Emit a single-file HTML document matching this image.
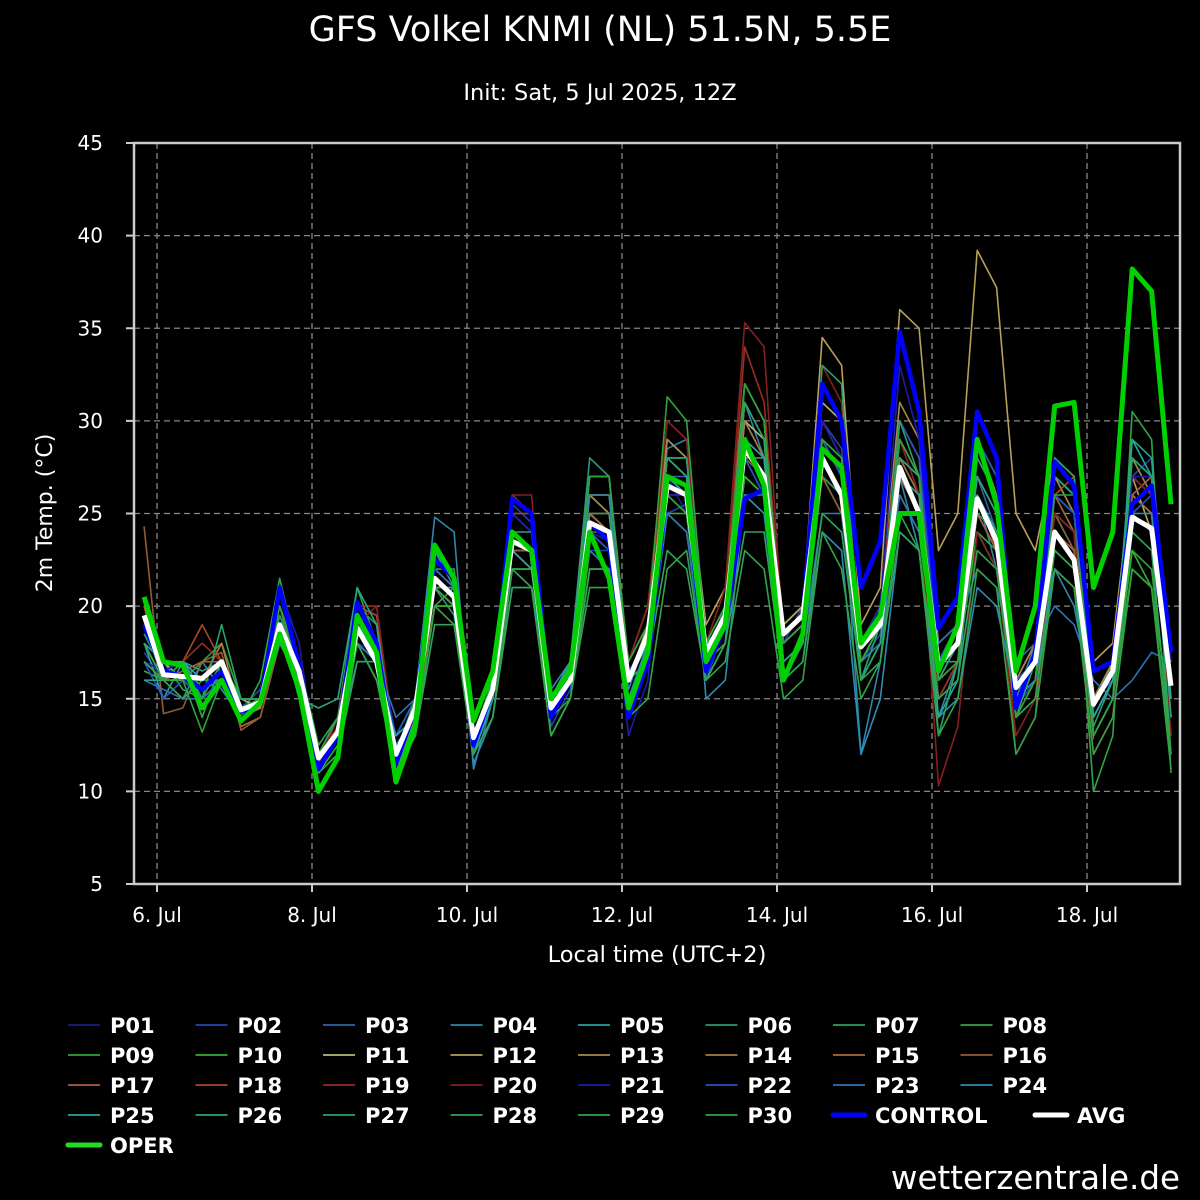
<!DOCTYPE html>
<html><head><meta charset="utf-8"><style>
html,body{margin:0;padding:0;background:#000;}
svg{display:block;font-family:"DejaVu Sans","Liberation Sans",sans-serif;}
</style></head><body>
<svg id="chart" width="1200" height="1200" viewBox="0 0 1200 1200" xmlns="http://www.w3.org/2000/svg">
<rect width="1200" height="1200" fill="#000"/>
<text x="600" y="41" text-anchor="middle" fill="#fff" font-size="35">GFS Volkel KNMI (NL) 51.5N, 5.5E</text>
<text x="600" y="100" text-anchor="middle" fill="#fff" font-size="22.5">Init: Sat, 5 Jul 2025, 12Z</text>
<g id="grid"></g>
<g id="series"></g>
<rect x="134" y="143" width="1046" height="741" fill="none" stroke="#ccc" stroke-width="2.5"/>
<g id="axes"></g>
<text x="657" y="962" text-anchor="middle" fill="#fff" font-size="22.5">Local time (UTC+2)</text>
<text transform="translate(52,513) rotate(-90)" text-anchor="middle" fill="#fff" font-size="22">2m Temp. (°C)</text>
<g id="legend"></g>
<text x="1180" y="1189" text-anchor="end" fill="#fff" font-size="32.5">wetterzentrale.de</text>
</svg>
<script>
const yTicks=[5,10,15,20,25,30,35,40,45];
const xTickLabels=["6. Jul","8. Jul","10. Jul","12. Jul","14. Jul","16. Jul","18. Jul"];
const xTickDays=[0,2,4,6,8,10,12];
const startHourOffset=-4;
const stepHours=6;
const avg=[19.5,16.3,16.2,16.1,17.0,14.4,14.8,19.0,16.5,11.8,13.2,18.8,17.0,12.0,14.5,21.5,20.5,12.9,15.5,23.5,23.0,14.5,16.0,24.5,24.0,16.0,18.5,26.5,26.0,17.5,19.5,28.5,27.0,18.5,19.5,28.0,26.0,17.8,19.0,27.5,25.0,16.8,18.0,25.8,23.5,15.6,17.0,24.0,22.5,14.7,16.5,24.8,24.2,15.7];
const oper=[20.5,17.0,16.8,14.5,16.0,13.8,14.8,18.5,15.5,10.0,11.8,19.5,17.5,10.5,13.5,23.3,21.5,13.8,16.5,24.0,23.0,15.0,16.5,24.0,21.5,14.5,17.5,27.0,26.5,17.0,19.0,29.0,26.5,16.0,18.5,28.5,27.5,18.0,19.5,25.0,25.0,16.5,19.0,29.0,25.5,16.5,20.0,30.8,31.0,21.0,24.0,38.2,37.0,25.5];
const control=[19,16.5,16.2,15.5,16.5,14.3,14.8,21,16.8,11.2,13,20.2,18,11.5,14.5,22.5,21.5,12.5,15.5,25.8,25.0,14,16,24.5,23.5,14,17,26.5,26,16.5,19,25.8,26.3,18.5,19.5,32,30,21,23.5,34.8,30.5,18.8,20.5,30.5,28,14.5,17.5,27.8,26.5,16.5,17.0,25.5,26.5,17.5];
const P01=[18,17,16,15.5,16.5,14,15,19.5,16,11.5,13,18,17.5,12.5,14,22,21,12.5,15,25,24,14,16.5,24,23.5,16.5,18,27,25,17,20,27,26,19,20,27,25,17,19,26,24,16,17,25,23,15,17,22,21,14,16,23,22,17.5];
const P02=[17.5,16,16.5,15,16,14.5,15.5,20,17,11,13.5,19.5,17,12,15,22.5,21.5,12,15,25.5,24.5,13.5,15.5,23,23,14,17,25,25.5,16,19,26,25,18,20,30,28.5,17,18.5,29,26,16.5,18,29,26,14.5,16,27,25,15,16,27,28,17];
const P03=[19,17,16,16,16,14.5,14.5,19,17,12,13,18.5,17.5,13,14,21,20,12,16,23,22,15,16,25,24,16,19,27,27,17,20,28,26,18,19,27,26,18,20,28,26,17,19,27,24,16,18,24,23,15,17,26,25,16];
const P04=[17,16,15,17,15.5,14,15,18.5,16,12,14,19,17,13,15,24.8,24,11.2,15,24,23,15.5,17,25,24,15.5,18.5,28.5,29,18,20,31,28,18.5,19.5,29,27,12,17,27,23,14,17,26,22,15,18,22,20,14.5,17,26,25,16];
const P05=[18,15,17,16.5,17,14.5,15,20,16.5,12,13,18,16,13,15,22,21,12,15,24,23,14,17,26,25,17,19,27,26,18,19,29,27,19,20,28,26,18,19,27,25,17,18,26,24,16,17,25,23,14,16,28,27,16];
const P06=[18.5,16.5,16,16,17,14,14.5,19,16,12.5,14,19,17.5,12,14.5,21,19.5,13,16,24,23,15,17,28,27,17,19,29,28,18,20,30,28,19,20,29,27,18,20,28,26,17,19,26,24,16,17,25,24,13.5,16,27,26,14];
const P07=[19,17,15.5,15,17,14.5,15,19.5,17,12.5,14,20,19,11,14,20,20,14,16,23,22,15,16,24,23,16,18,25,24,17,19,27,26,18,19,27,26,18,19,28,27,17,19,27,25,16,18,26,25,13,15,22,21,14];
const P08=[17,16.5,17,14,17,14,16,21.5,17,12,14,21,18,11,13,20,21,13,16,25,24,15,16,25,24,16,17,26,25,17,18,28,28,17,18,29,27,16,18,29,27,17,17,24,23,14,16,25,24,10,13,30.5,29,11];
const P09=[20,17,16,17,18,15,15,20,16,12,13,19,17,12,14,21,20,13,15,22,22,14,15,23,22,15,17,26,25,16,18,27,26,17,18,27,25,16,18,26,24,15,17,24,22,14,15,22,21,13,15,23,22,13];
const P10=[16.5,16,16,15,16,15,15,18,16,11,12.5,18,17,11,14,20,20,12,14,22,22,13,15,22,22,15,17,25,25,17,19,27,26,18,19,28,26,17,19,27,25,16,17,24,22,15,17,23,22,14,16,23,21,12];
const P11=[19,16,16,16,17,15,14.5,19,17,12,13,19,17,12,15,21,20,13,16,24,23,15,17,25,24,16,18,28,27,18,20,30,29,19,20,31,30,18,20,30,28,18,19,29,27,16,18,26,25,15,17,27,26,16];
const P12=[19,17,16,16,17,14,15,18,17,12,14,19,18,12,15,22,21,13,16,23,23,15,17,26,26,17,20,29,28,19,21,32,30,19,20,34.5,33,19,21,36,35,23,25,39.2,37.2,25,23,28,27,17,18,27,24,17];
const P13=[18,16,17,16,17,14,14.5,18,16,12,13,18,17,12,14,21,20,13,15,24,23,14,16,26,25,16,19,29,28,18,20,31,29,18,19,30,28,18,20,31,29,17,19,29,26,15,17,27,25,15,17,28,26,15];
const P14=[17,16,15,16,18,14,15,18,16,12,13,18,17,12,14,21,20,13,15,23,23,14,16,25,24,16,18,28,27,17,19,30,28,18,19,29,27,17,19,29,27,17,19,28,26,16,18,27,26,15,16,26,25,14];
const P15=[20,16,16,16,17,13.5,14,18,17,12,14,19,17,12,14,21,20,13,16,23,22,14,16,25,24,16,18,27,26,17,19,29,28,18,19,28,26,17,19,28,26,16,18,27,25,15,17,26,24,14,16,26,25,14];
const P16=[24.3,14.2,14.5,17,17.5,13.3,14,18,16,11,13,18,17,12,14,20,19,13,16,23,23,15,16,24,24,16,18,26,26,17,19,28,27,18,19,27,25,17,18,27,25,16,18,26,24,15,17,25,23,14,16,25,24,15];
const P17=[19,16,16.5,17,17,14,15,19,17,12,13,19,18,12,15,21,20,13,16,23,22,15,16,25,25,16,18,27,26,17,19,29,27,18,19,28,26,17,19,27,25,16,17,25,23,15,16,24,23,12,14,26,27,13];
const P18=[18,16,17,19,17,14,15,20,17,11,13,20,19.5,12,14,21,21,13,16,25,25,14,16,25,25,16,18,28,27,17,19,31,29,18,19,30,28,17,18,29,27,15,17,26,23,12,14,26,27,12.8];
const P19=[18,16,17,18,17,14,15,20,17,11.5,14,20,20,12,15,22,21,13,16,26,25,14,17,26,26,17,19,30,29,18,20,34,31,18,19,32,30,18,20,30,28,15,17,25,24,14,16,27,26,13,15,27,26,14];
const P20=[18,16,16,16,17,14,15,20,17,12,13.5,19,20,12,15,22,21,13,16,26,26,14,17,27,27,17,20,30,29,18,21,35.3,34,18,19,33,31,17,19,29,26,10.3,13.5,24,22,13,15,25,24,12,14,27,26,13];
const P21=[17,16.5,17,15,16,14,15,21,18,11,13,20,18,13,14,22,21,12,15,25,24,14,16,24,23,13,16,26,26,17,19,26,26,18,19,30,28,18,20,33,29,17,18,28,26,15,17,26,25,15,16,27,27,17];
const P22=[17,15,16,15,16,15,15,19,17,12,14,18,17,13,15,22,21,12,15,24,23,15,17,24,23,14,17,27,26,17,19,28,26,18,19,29,27,18,19,30,28,17,19,29,27,16,17,26,25,15,16,25,26,16];
const P23=[16,15.5,15,15,16,15,15,19,17,12,13,18,17,14,15,22,21,12,14,22,21,15,17,23,22,15,17,25,24,16,18,26,26,17,18,25,25,17,18,26,24,18,19,22,21,17,18,20,19,16,15,16,17.5,17];
const P24=[17,16,17,15.5,16,15,15,18,16,12,13,17,17,12.5,14,23,21,11.5,14,21,21,15,17,26,26,15,18,28,28,15,16,26,25,16,17,24,23,12,15,24,23,14,15,21,20,15,16,22,21,14,16,25,25,15];
const P25=[18,17,17,16,17,15,15,19,16,12,13,18,16,13,14,21,21,12,15,23,22,15,17,27,27,16,18,27,26,16,18,29,28,18,19,28,26,17,19,27,26,14,16,26,24,15,17,27,26,14,16,29,27,15];
const P26=[16,16,16,16,17,15,15,19,15,14.5,15,21,19,12,15,21,20,14,16,24,24,15,17,27,27,16,18,28,27,17,19,32,30,17,18,29,28,16,18,28,27,16,18,27,25,15,17,27,26,13,15,29,28,14];
const P27=[18,16,17,15,19,15,15,19,17,12,13,19,17,12,15,22,22,13,16,24,23,14,17,25,25,16,18,28,28,18,20,31,29,16,18,33,32,16,19,30,27,13,17,28,26,14,17,28,27,13,15,28,27,12];
const P28=[18,16,16,16,17,15,15,19,17,11,12,17,17,12,13,19,19,12,14,21,21,13,15,22,22,15,17,23,22,16,18,24,24,16,17,25,24,16,17,24,23,15,16,23,22,14,15,23,22,13,15,24,23,12];
const P29=[17,16,15,16,16,14.5,15,19,16,11,12,18,16,11,13,20,19,12,14,22,21,13,15,21,21,14,15,22,23,16,17,23,22,15,16,24,22,15,17,25,23,13,15,22,21,12,14,22,21,12,14,22,21,11.2];
const P30=[19,16,16,13.2,16,14.5,15,20,17,12,14,19,18,12,15,21,20,13,16,24,23,15,16,27,27,17,19,31.3,30,18,20,32,30,18,19,29,28,17,19,29,27,16,17,25,24,14,16,26,26,13,15,22,21,12];
const members=[P01,P02,P03,P04,P05,P06,P07,P08,P09,P10,P11,P12,P13,P14,P15,P16,P17,P18,P19,P20,P21,P22,P23,P24,P25,P26,P27,P28,P29,P30];
const memberColors=["#1c1c8a","#2244b0","#2e64a4","#2e86aa","#2aa0a2","#2a9a78","#2aa058","#34a448","#30a438","#30b030","#b8b878","#b8a058","#a88a48","#a87c44","#a86a38","#905c34","#a86040","#a84828","#982e20","#842020","#1c1ca8","#2454c4","#2e74b4","#2e8cb4","#28a4a4","#28a484","#28a468","#30a458","#30a448","#30a438"];

const NS="http://www.w3.org/2000/svg";
const X0=157, PXDAY=77.5, Y0=884, PXDEG=741/40;
function xScale(hours){return X0+hours/24*PXDAY;}
function yScale(v){return Y0-(v-5)*PXDEG;}
function mk(tag,attrs,parent){const e=document.createElementNS(NS,tag);for(const k in attrs)e.setAttribute(k,attrs[k]);parent.appendChild(e);return e;}
const grid=document.getElementById('grid'),axes=document.getElementById('axes'),series=document.getElementById('series'),legend=document.getElementById('legend');
yTicks.forEach(t=>{
  const y=yScale(t);
  if(t>5&&t<45){const l=mk('line',{x1:134,x2:1180,y1:y,y2:y,stroke:'#888','stroke-width':1.3,'stroke-dasharray':'6,4'},grid);
  
  }
  const tk=mk('line',{x1:126,x2:134,y1:y,y2:y,stroke:'#ccc','stroke-width':2},axes);
  
  
  const tx=mk('text',{x:103,y:y+7,'text-anchor':'end',fill:'#fff','font-size':20},axes);
  tx.textContent=t;
  
  
});
xTickDays.forEach((d,i)=>{
  const x=xScale(d*24);
  const l=mk('line',{x1:x,x2:x,y1:143,y2:884,stroke:'#888','stroke-width':1.3,'stroke-dasharray':'6,4'},grid);
  
  
  const tk=mk('line',{x1:x,x2:x,y1:884,y2:892,stroke:'#ccc','stroke-width':2},axes);
  
  
  const tx=mk('text',{x:x,y:922,'text-anchor':'middle',fill:'#fff','font-size':20},axes);
  tx.textContent=xTickLabels[i];
  
  
});
function pts(arr){return arr.map((v,i)=>xScale(startHourOffset+i*stepHours).toFixed(1)+','+yScale(v).toFixed(1)).join(' ');}
members.forEach((arr,i)=>{
  const p=mk('polyline',{points:pts(arr),fill:'none',stroke:memberColors[i],'stroke-width':1.6,'stroke-linejoin':'round'},series);
  
  
});
const pc=mk('polyline',{points:pts(control),fill:'none',stroke:'#0000ff','stroke-width':4.5,'stroke-linejoin':'round'},series);


const pa=mk('polyline',{points:pts(avg),fill:'none',stroke:'#ffffff','stroke-width':5,'stroke-linejoin':'round'},series);


const po=mk('polyline',{points:pts(oper),fill:'none',stroke:'#00d000','stroke-width':5,'stroke-linejoin':'round'},series);


// legend
const names=members.map((_,i)=>'P'+String(i+1).padStart(2,'0')).concat(['CONTROL','AVG','OPER']);
const colors=memberColors.concat(['#0000ff','#ffffff','#22dd22']);
names.forEach((n,i)=>{
  const col=i%8,row=Math.floor(i/8);
  let x=68+col*127.5;
  const y=1025+row*30;
  if(n==='AVG') x=1035;
  const thick=i>=30;
  const ln=mk('line',{x1:x,x2:x+32,y1:y,y2:y,stroke:colors[i],'stroke-width':thick?5:1.8,'stroke-linecap':thick?'round':'butt'},legend);
  
  
  const tx=mk('text',{x:x+42,y:y+8,fill:'#fff','font-size':21,'font-weight':'bold'},legend);
  tx.textContent=n;
  
  
});
</script>
</body></html>
